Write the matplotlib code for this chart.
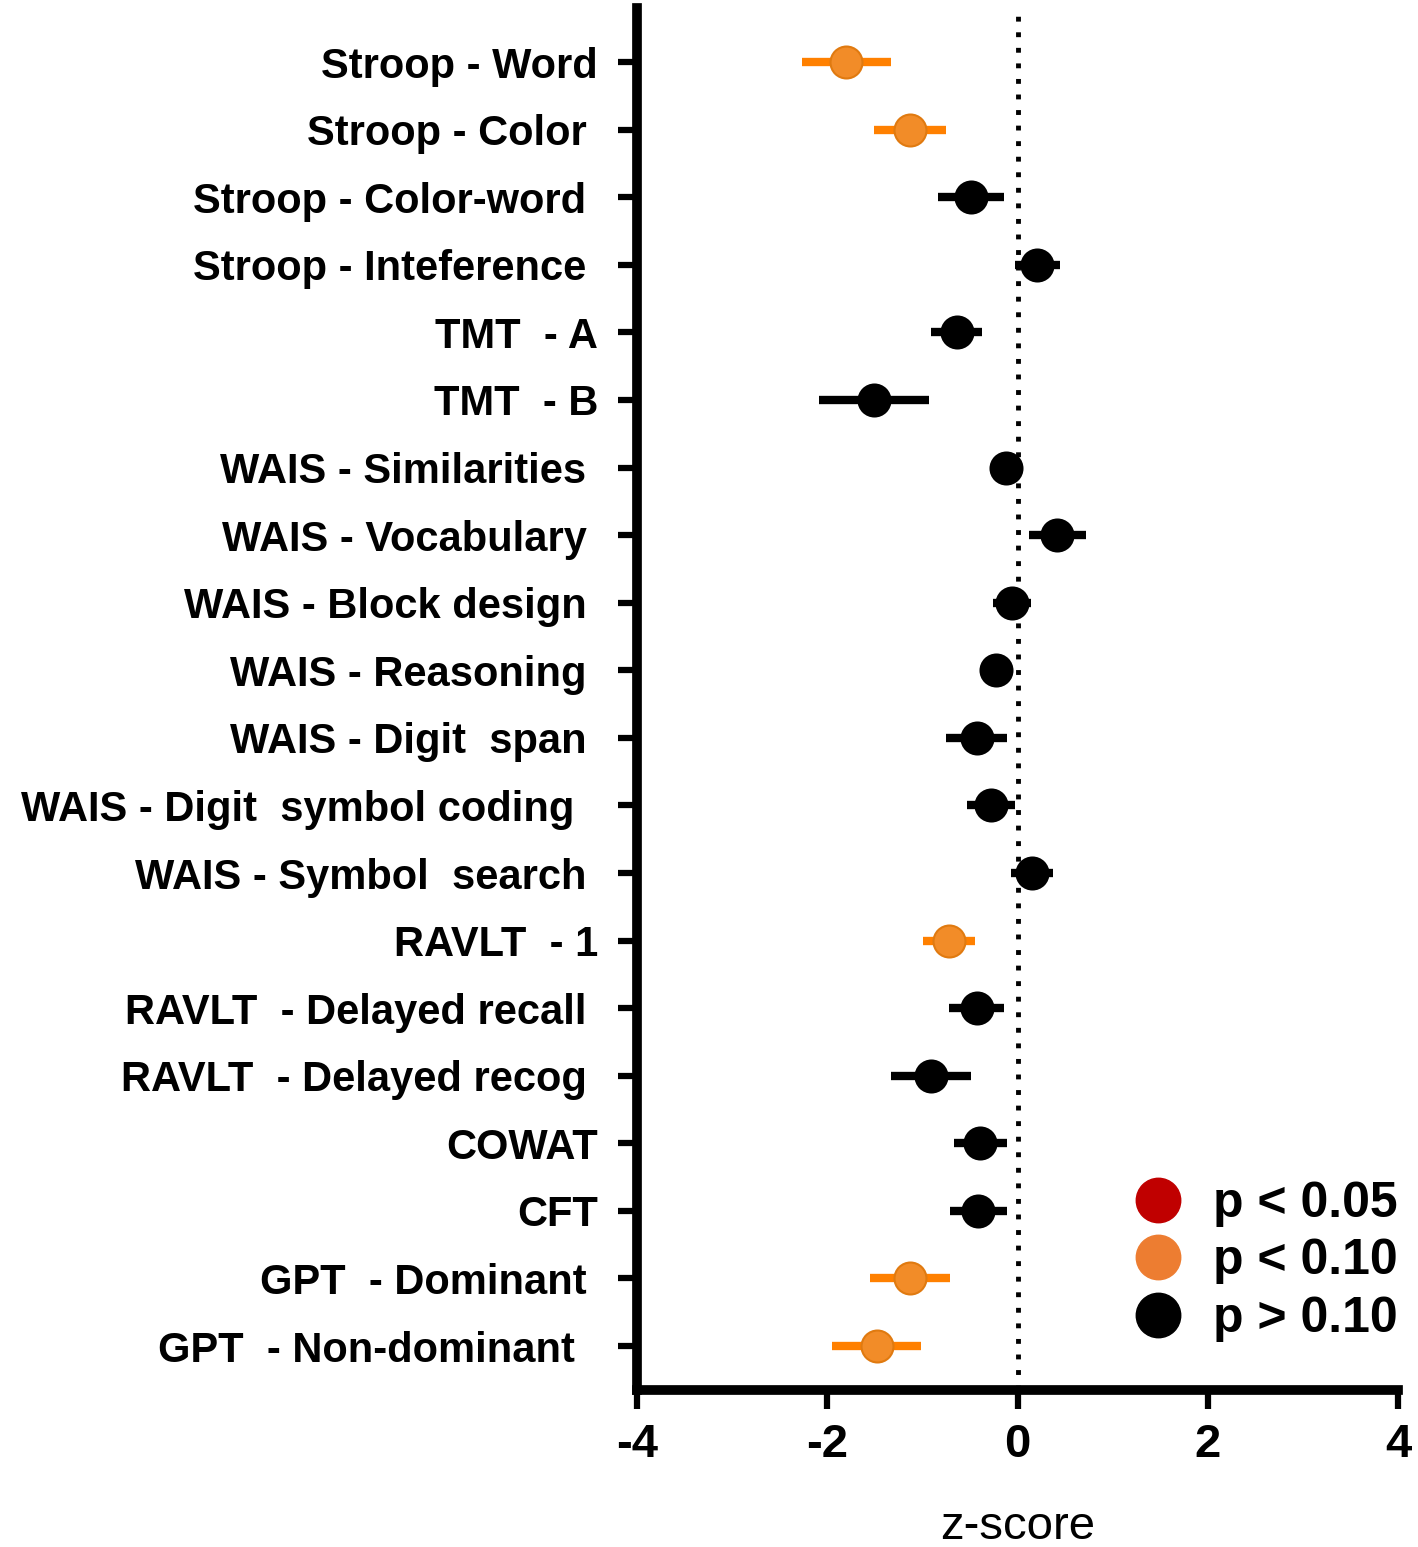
import matplotlib
matplotlib.use("Agg")
import matplotlib.pyplot as plt
from matplotlib import font_manager
from matplotlib.lines import Line2D

# data
tests = ["Stroop - Word", "Stroop - Color ", "Stroop - Color-word ", "Stroop - Inteference ",
         "TMT  - A", "TMT  - B", "WAIS - Similarities ", "WAIS - Vocabulary ",
         "WAIS - Block design ", "WAIS - Reasoning ", "WAIS - Digit  span ",
         "WAIS - Digit  symbol coding  ", "WAIS - Symbol  search ", "RAVLT  - 1",
         "RAVLT  - Delayed recall ", "RAVLT  - Delayed recog ", "COWAT", "CFT",
         "GPT  - Dominant ", "GPT  - Non-dominant  "]
zscore = [-1.80, -1.13, -0.49, 0.21, -0.64, -1.51, -0.12, 0.42, -0.06, -0.23,
          -0.43, -0.28, 0.15, -0.72, -0.43, -0.91, -0.39, -0.41, -1.13, -1.48]
err = [0.47, 0.38, 0.35, 0.24, 0.27, 0.58, 0.10, 0.30, 0.20, 0.10,
       0.32, 0.25, 0.22, 0.27, 0.29, 0.42, 0.28, 0.30, 0.42, 0.47]
# significance group: 1 = p < 0.10, 2 = p > 0.10
group = [1, 1, 2, 2, 2, 2, 2, 2, 2, 2, 2, 2, 2, 1, 2, 2, 2, 2, 1, 1]
legend_labels = ["p < 0.05", "p < 0.10", "p > 0.10"]
xticks = [-4, -2, 0, 2, 4]


def has_font(name):
    try:
        font_manager.findfont(font_manager.FontProperties(family=name), fallback_to_default=False)
        return True
    except Exception:
        return False


narrow = has_font("Liberation Sans Narrow")
label_font = "Liberation Sans Narrow" if narrow else "Liberation Sans"
label_size = 36 if narrow else 30

plt.rcParams["font.family"] = ["Liberation Sans", "DejaVu Sans"]

fig = plt.figure(figsize=(14.18, 15.47), dpi=100)
ax = fig.add_axes([637 / 1418, 1 - 1390 / 1547, (1398 - 637) / 1418, (1390 - 8) / 1547])

bar_col = {1: "#FF8000", 2: "black"}
face_col = {1: "#F28C28", 2: "black"}
edge_col = {1: "#E07A10", 2: "black"}

ax.axvline(0, color="black", lw=3.5, ls=(0, (1, 2.2)), zorder=1)

for i, (z, e, g) in enumerate(zip(zscore, err, group)):
    ax.errorbar(z, i, xerr=e, fmt="o", color=bar_col[g], ecolor=bar_col[g],
                elinewidth=6, capsize=0, ms=23, mfc=face_col[g], mec=edge_col[g],
                mew=1.5, zorder=3)

ax.set_xlim(-4, 4)
ax.set_ylim(19.65, -0.8)
ax.set_xticks(xticks)
ax.set_xticklabels([str(t) for t in xticks], fontsize=34, fontweight="bold")
ax.set_yticks(range(len(tests)))
ax.set_yticklabels(tests, fontsize=label_size, fontweight="bold", family=label_font)

for s in ["top", "right"]:
    ax.spines[s].set_visible(False)
for s in ["left", "bottom"]:
    ax.spines[s].set_linewidth(7)
ax.tick_params(axis="y", length=14, width=4.5, pad=14)
ax.tick_params(axis="x", length=14, width=4.5, pad=10)

ax.set_xlabel("z-score", fontsize=34, labelpad=27)

handles = [Line2D([], [], ls="none", marker="o", ms=32, mfc=c, mec=c)
           for c in ["#C00000", "#ED7D31", "black"]]
ax.legend(handles, legend_labels, loc="lower right", frameon=False,
          bbox_to_anchor=(1398 / 1418, 1 - 1342 / 1547), bbox_transform=fig.transFigure,
          prop={"size": 36, "weight": "bold"}, handlelength=1.0, handletextpad=0.6,
          labelspacing=0.23, borderpad=0, borderaxespad=0)

fig.savefig("out.png", dpi=100)
